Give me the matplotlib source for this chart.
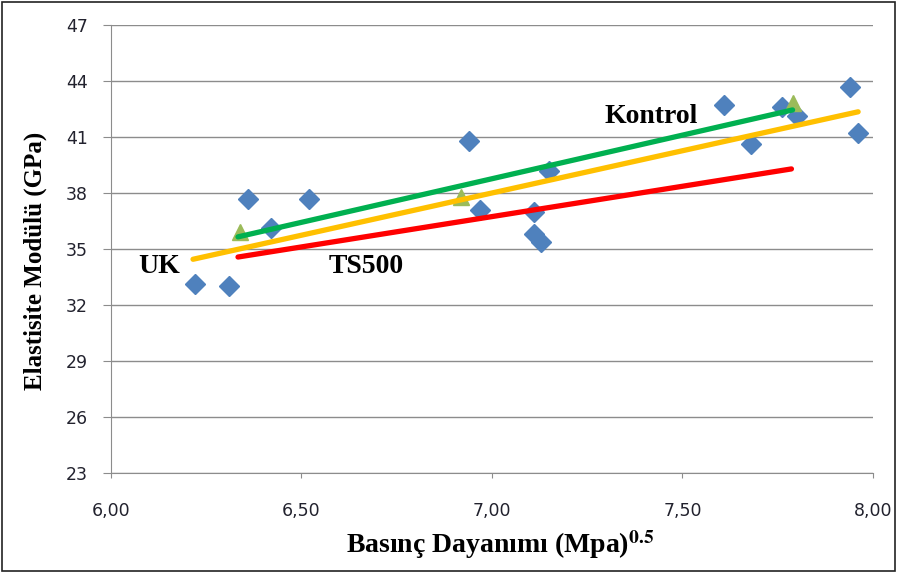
import matplotlib
matplotlib.use("Agg")
import matplotlib.pyplot as plt
from matplotlib.patches import Rectangle

# =========================
# DATOS
# =========================

# Ensayos: raiz de basinc dayanimi vs elastisite modulu
deney_x = [6.22, 6.31, 6.36, 6.42, 6.52, 6.94, 6.97, 7.11, 7.11, 7.13,
           7.15, 7.61, 7.68, 7.76, 7.80, 7.94, 7.96]
deney_y = [33.1, 33.0, 37.7, 36.1, 37.7, 40.8, 37.1, 37.0, 35.8, 35.4,
           39.2, 42.7, 40.6, 42.6, 42.1, 43.7, 41.2]

# Kontrol numuneleri
kontrol_x = [6.34, 6.92, 7.79]
kontrol_y = [35.9, 37.8, 42.8]

# Bagintilar (baslangic / bitis)
kontrol_line_x = [6.334, 7.789]
kontrol_line_y = [35.65, 42.45]
uk_line_x = [6.216, 7.961]
uk_line_y = [34.45, 42.35]
ts500_line_x = [6.334, 7.786]
ts500_line_y = [34.57, 39.29]

x_ticks = [6.00, 6.50, 7.00, 7.50, 8.00]
y_ticks = [23, 26, 29, 32, 35, 38, 41, 44, 47]

SERIF = "Liberation Serif"
W, H = 897, 573

# =========================
# GRAFIK
# =========================

plt.rcParams["mathtext.fontset"] = "stix"

fig = plt.figure(figsize=(W / 100, H / 100), dpi=100)
ax = fig.add_axes([110.7 / W, 100 / H, 762.3 / W, 448 / H])

for y in y_ticks:
    ax.axhline(y, color="#8c8c8c", lw=1.0, zorder=0)

ax.plot(deney_x, deney_y, linestyle="none", marker="D", markersize=10,
        color="#4F81BD", zorder=2)
ax.plot(kontrol_x, kontrol_y, linestyle="none", marker="^", markersize=11,
        color="#9BBB59", zorder=2)

ax.plot(uk_line_x, uk_line_y, color="#FFC000", lw=3.8,
        solid_capstyle="round", zorder=3)
ax.plot(ts500_line_x, ts500_line_y, color="#FF0000", lw=3.8,
        solid_capstyle="round", zorder=3)
ax.plot(kontrol_line_x, kontrol_line_y, color="#00B050", lw=3.8,
        solid_capstyle="round", zorder=3)

ax.text(7.295, 41.75, "Kontrol", fontsize=20, fontweight="bold",
        family=SERIF, ha="left", va="baseline")
ax.text(6.072, 33.71, "UK", fontsize=20, fontweight="bold",
        family=SERIF, ha="left", va="baseline")
ax.text(6.573, 33.71, "TS500", fontsize=20, fontweight="bold",
        family=SERIF, ha="left", va="baseline")

ax.set_xlim(6.0, 8.0)
ax.set_ylim(23, 47)
ax.set_xticks(x_ticks)
ax.set_xticklabels([f"{v:.2f}".replace(".", ",") for v in x_ticks])
ax.set_yticks(y_ticks)
ax.set_yticklabels([str(v) for v in y_ticks])
ax.tick_params(axis="both", direction="out", color="#8c8c8c",
               labelsize=12.5, labelcolor="#22222e")
ax.tick_params(axis="y", length=5.5, pad=11)
ax.tick_params(axis="x", length=3.6, pad=17)

for side in ["top", "right"]:
    ax.spines[side].set_visible(False)
for side in ["left", "bottom"]:
    ax.spines[side].set_color("#8c8c8c")

fig.text(500 / W, 1 - 553 / H, r"Basınç Dayanımı (Mpa)$^{\mathbf{0.5}}$",
         fontsize=20, fontweight="bold", family=SERIF,
         ha="center", va="baseline")
fig.text(35 / W, 1 - 261 / H, "Elastisite Modülü (GPa)", fontsize=18,
         fontweight="bold", family=SERIF, rotation=90,
         ha="center", va="center")

fig.add_artist(Rectangle((0.002, 0.003), 0.996, 0.994,
                         transform=fig.transFigure, fill=False,
                         edgecolor="#222222", lw=1.2))

fig.savefig("out.png", dpi=100)
